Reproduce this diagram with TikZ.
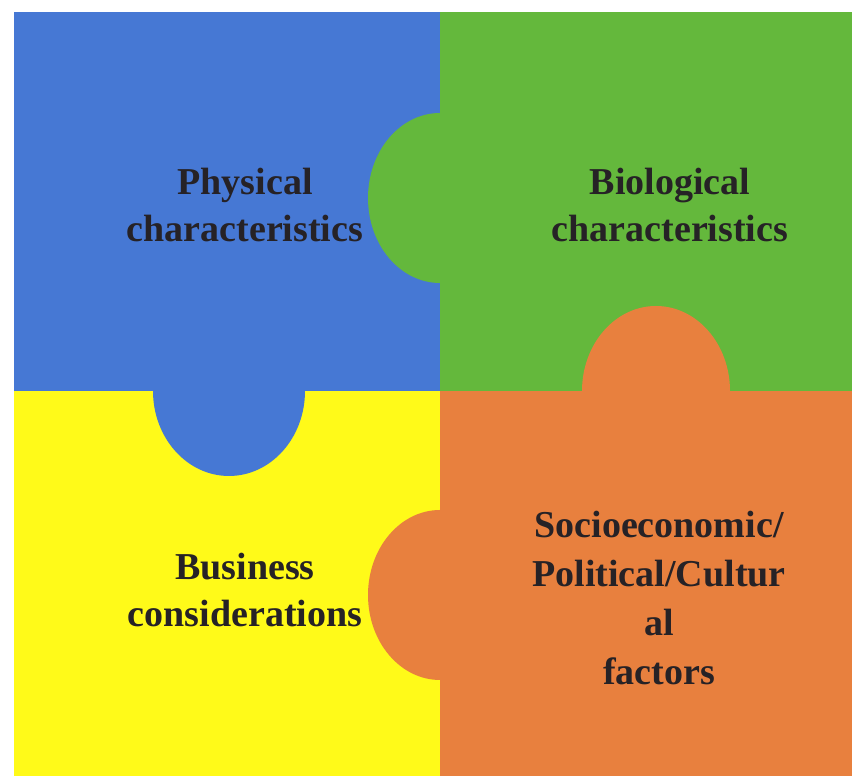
\documentclass[tikz,border=0pt]{standalone}
\usepackage{fontspec}
\setmainfont{Liberation Serif}
\usetikzlibrary{positioning}
\definecolor{pieceblue}{RGB}{70,120,212}
\definecolor{piecegreen}{RGB}{100,184,60}
\definecolor{pieceyellow}{RGB}{255,250,25}
\definecolor{pieceorange}{RGB}{232,128,62}
\definecolor{textgray}{RGB}{38,34,38}

\begin{document}
\begin{tikzpicture}[x=1pt,y=1pt,
    piecetext/.style={align=center,text=textgray,inner sep=0pt,
      font=\fontsize{38}{47}\selectfont\bfseries}]
      \useasboundingbox (0,0) rectangle (852,778);
      % the four squares
      \fill[pieceblue] (14,387) rectangle (440,766);
      \fill[piecegreen] (440,387) rectangle (852,766);
      \fill[pieceyellow] (14,2) rectangle (440,387);
      \fill[pieceorange] (440,2) rectangle (852,387);
      % the tabs
      \fill[piecegreen] (440,665) arc[start angle=90,end angle=270,x radius=72,y radius=85] -- cycle;
      \fill[pieceblue] (153,387) arc[start angle=180,end angle=360,x radius=76,y radius=85] -- cycle;
      \fill[pieceorange] (582,387) arc[start angle=180,end angle=0,x radius=74,y radius=85] -- cycle;
      \fill[pieceorange] (440,268) arc[start angle=90,end angle=270,x radius=72,y radius=85] -- cycle;
      % texts
      \node[piecetext] (phys) at (245,573) {Physical\\characteristics};
      \node[piecetext] (bio) at (670,573) {Biological\\characteristics};
      \node[piecetext] (bus) at (245,188) {Business\\considerations};
      \node[piecetext,font=\fontsize{38}{49}\selectfont\bfseries] (socio) at (659,180)
        {Socioeconomic/\\Political/Cultur\\al\\factors};
      \end{tikzpicture}
\end{document}
